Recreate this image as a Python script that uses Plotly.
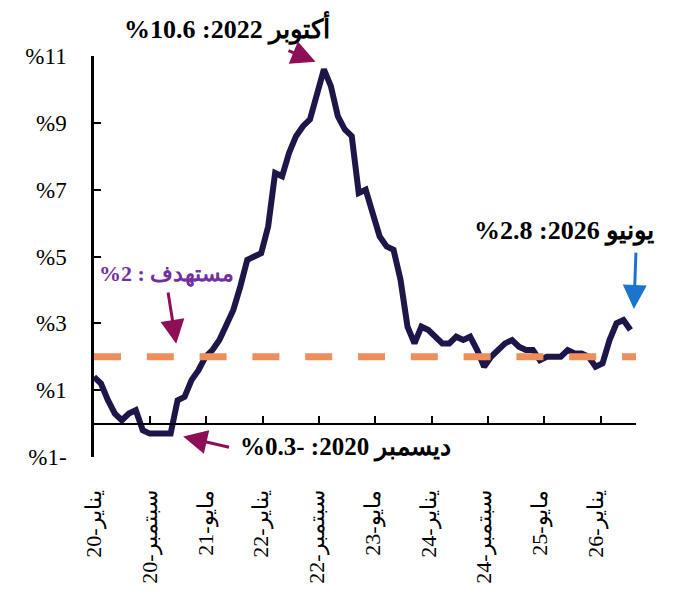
import plotly.graph_objects as go
import pandas as pd

# ---------------- data ----------------
months = pd.date_range("2020-01-01", "2026-06-01", freq="MS").strftime("%Y-%m").tolist()

cpi_2020 = [1.4, 1.2, 0.7, 0.3, 0.1, 0.3, 0.4, -0.2, -0.3, -0.3, -0.3, -0.3]
cpi_2021 = [0.7, 0.8, 1.3, 1.6, 2.0, 2.2, 2.5, 3.0, 3.4, 4.1, 4.9, 5.0]
cpi_2022 = [5.1, 5.9, 7.5, 7.4, 8.1, 8.6, 8.9, 9.1, 9.9, 10.6, 10.1, 9.2]
cpi_2023 = [8.8, 8.6, 6.9, 7.0, 6.3, 5.6, 5.3, 5.2, 4.3, 2.9, 2.4, 2.9]
cpi_2024 = [2.8, 2.6, 2.4, 2.4, 2.6, 2.5, 2.6, 2.2, 1.7, 2.0, 2.2, 2.4]
cpi_2025 = [2.5, 2.3, 2.2, 2.2, 1.9, 2.0, 2.0, 2.0, 2.2, 2.1, 2.1, 2.0]
cpi_2026 = [1.7, 1.8, 2.5, 3.0, 3.1, 2.8]
inflation = cpi_2020 + cpi_2021 + cpi_2022 + cpi_2023 + cpi_2024 + cpi_2025 + cpi_2026

target = 2.0

tick_months = ["2020-01", "2020-09", "2021-05", "2022-01", "2022-09",
               "2023-05", "2024-01", "2024-09", "2025-05", "2026-01"]
tick_labels = ["يناير-20", "سبتمبر-20", "مايو-21", "يناير-22", "سبتمبر-22",
               "مايو-23", "يناير-24", "سبتمبر-24", "مايو-25", "يناير-26"]

y_ticks = [-1, 1, 3, 5, 7, 9, 11]
y_tick_labels = ["%1-", "%1", "%3", "%5", "%7", "%9", "%11"]

peak_label = "أكتوبر 2022: 10.6%"
low_label = "ديسمبر 2020: -0.3%"
last_label = "يونيو 2026: 2.8%"
target_label = "مستهدف : 2%"

# ---------------- styles ----------------
FONT = "Liberation Serif, Times New Roman, DejaVu Serif, serif"
NAVY = "#1D1648"
ORANGE = "#EE8E5C"
MAROON = "#8E0F55"
BLUE = "#1C75CC"
PURPLE = "#7030A0"


def rtl(s):
    return "\u202b" + s + "\u202c"


fig = go.Figure()
fig.add_trace(go.Scatter(x=months, y=inflation, mode="lines",
                         line=dict(color=NAVY, width=6),
                         hoverinfo="skip", showlegend=False))
fig.add_trace(go.Scatter(x=months, y=[target] * len(months), mode="lines",
                         xaxis="x2",
                         line=dict(color=ORANGE, width=7, dash="27px,25.8px"),
                         hoverinfo="skip", showlegend=False))

bold = dict(family=FONT, weight="bold")
annotations = [
    dict(text=rtl(peak_label), x=0.2463, y=1.0698, xref="paper", yref="paper",
         font=dict(size=26, color="black", **bold)),
    dict(text=rtl(low_label), x=36.1, y=-0.72, xref="x", yref="y",
         font=dict(size=25, color="black", **bold)),
    dict(text=rtl(last_label), x=67.5, y=5.76, xref="x", yref="y",
         font=dict(size=26, color="black", **bold)),
    dict(text=rtl(target_label), x=10.36, y=4.48, xref="x", yref="y",
         font=dict(size=22, color=PURPLE, **bold)),
]
for a in annotations:
    a.update(showarrow=False, xanchor="center", yanchor="middle")

arrows = [
    (27.7, 11.18, 31.8, 10.83, MAROON),
    (19.6, -0.72, 12.8, -0.39, MAROON),
    (10.6, 3.97, 11.8, 2.39, MAROON),
    (77.8, 5.16, 77.5, 3.43, BLUE),
]
for ax0, ay0, x1, y1, col in arrows:
    annotations.append(dict(text="", x=x1, y=y1, ax=ax0, ay=ay0,
                            xref="x", yref="y", axref="x", ayref="y",
                            showarrow=True, arrowhead=2, arrowsize=1.6,
                            arrowwidth=3, arrowcolor=col, standoff=0))

fig.update_layout(
    width=692, height=587,
    margin=dict(l=86, r=64, t=48, b=138, autoexpand=False),
    paper_bgcolor="white", plot_bgcolor="white",
    showlegend=False,
    annotations=annotations,
    xaxis=dict(type="category", categoryorder="array", categoryarray=months,
               range=[0, 77.8], tickvals=tick_months, ticktext=tick_labels,
               tickangle=-90, ticks="", showline=False, showgrid=False,
               zeroline=False, ticklabelstandoff=28, automargin=False,
               tickfont=dict(family=FONT, size=22, color="black")),
    xaxis2=dict(overlaying="x", matches="x", anchor="free", position=1 / 12,
                side="bottom", showline=True, linecolor="black", linewidth=2,
                ticks="inside", ticklen=7, tickwidth=1.5, tickcolor="black",
                tickvals=tick_months, showticklabels=False, showgrid=False,
                zeroline=False, automargin=False),
    yaxis=dict(range=[-1, 11], tickvals=y_ticks, ticktext=y_tick_labels,
               showline=True, linecolor="black", linewidth=2.5,
               ticks="inside", ticklen=7, tickwidth=2, tickcolor="black",
               showgrid=False, zeroline=False, ticklabelstandoff=20,
               automargin=False,
               tickfont=dict(family=FONT, size=23, color="black")),
)

fig.write_html("out.html")
